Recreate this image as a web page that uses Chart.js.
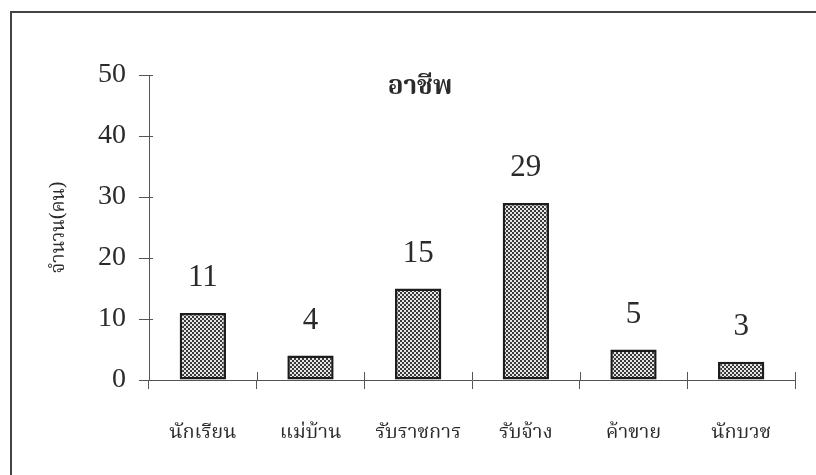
<!DOCTYPE html>
<html>
<head>
<meta charset="utf-8">
<script src="https://cdn.jsdelivr.net/npm/chart.js@4/dist/chart.umd.min.js"></script>
<style>
  html, body { margin: 0; padding: 0; background: #ffffff; }
  #wrap { width: 816px; height: 475px; }
</style>
</head>
<body>
<div id="wrap"><canvas id="c" width="816" height="475"></canvas></div>
<script>
// Occupation survey: number of people per occupation
const categories = ['นักเรียน', 'แม่บ้าน', 'รับราชการ', 'รับจ้าง', 'ค้าขาย', 'นักบวช'];
const counts = [11, 4, 15, 29, 5, 3];
const yTicks = [0, 10, 20, 30, 40, 50];
const chartTitle = 'อาชีพ';
const yAxisTitle = 'จำนวน(คน)';

const THAI = "'Noto Serif Thai', 'Noto Sans Thai', 'TH Sarabun New', 'Norasi', 'Loma', 'Garuda', serif";
const SERIF = "'Liberation Serif', 'DejaVu Serif', serif";
const INK = '#2b2b2b';
const AXIS = '#555555';

// Fine stipple fill used for the bars
function stipple() {
  const t = document.createElement('canvas');
  t.width = 4; t.height = 4;
  const g = t.getContext('2d');
  g.fillStyle = '#e6e6e6';
  g.fillRect(0, 0, 4, 4);
  g.fillStyle = '#3a3a3a';
  g.fillRect(0, 0, 2, 2);
  g.fillRect(2, 2, 2, 2);
  return g.createPattern(t, 'repeat');
}

// Frame, white page, title, axis title, inner tick stubs and value labels
const decor = {
  id: 'decor',
  beforeDraw(chart) {
    const c = chart.ctx;
    c.save();
    c.fillStyle = '#ffffff';
    c.fillRect(0, 0, chart.width, chart.height);
    c.strokeStyle = '#444444';
    c.lineWidth = 2;
    c.beginPath();
    c.moveTo(11, chart.height);
    c.lineTo(11, 12);
    c.lineTo(chart.width, 12);
    c.stroke();
    c.restore();
  },
  afterDraw(chart) {
    const c = chart.ctx;
    const a = chart.chartArea;
    const ys = chart.scales.y;
    c.save();
    // inward halves of the tick marks
    c.strokeStyle = AXIS;
    c.lineWidth = 1;
    c.beginPath();
    ys.ticks.forEach((t) => {
      const y = Math.round(ys.getPixelForValue(t.value)) + 0.5;
      c.moveTo(a.left, y); c.lineTo(a.left + 4, y);
    });
    const n = categories.length;
    for (let k = 1; k <= n; k++) {
      const x = Math.round(a.left + (a.right - a.left) * k / n) + 0.5;
      c.moveTo(x, a.bottom); c.lineTo(x, a.bottom - 8);
    }
    c.stroke();

    // title inside plot
    c.fillStyle = INK;
    c.textAlign = 'center';
    c.textBaseline = 'middle';
    c.font = 'bold 26px ' + THAI;
    c.fillText(chartTitle, 420, 90);

    // rotated axis title
    c.save();
    c.translate(61, (a.top + a.bottom) / 2);
    c.rotate(-Math.PI / 2);
    c.font = '19px ' + THAI;
    c.fillText(yAxisTitle, 0, 0);
    c.restore();

    // value labels above bars
    c.font = '31px ' + SERIF;
    const meta = chart.getDatasetMeta(0);
    meta.data.forEach((bar, i) => {
      c.fillText(String(counts[i]), bar.x, bar.y - 35);
    });
    c.restore();
  }
};

new Chart(document.getElementById('c'), {
  type: 'bar',
  data: {
    labels: categories,
    datasets: [{
      data: counts,
      backgroundColor: stipple(),
      borderColor: '#1c1c1c',
      borderWidth: 2.5,
      borderSkipped: false,
      barPercentage: 0.43,
      categoryPercentage: 1.0
    }]
  },
  options: {
    responsive: false,
    animation: false,
    devicePixelRatio: 1,
    layout: { padding: { top: 75, right: 21, left: 0, bottom: 0 } },
    plugins: {
      legend: { display: false },
      tooltip: { enabled: false },
      title: { display: false }
    },
    scales: {
      x: {
        type: 'category',
        grid: { offset: true, drawOnChartArea: false, tickLength: 9, color: AXIS, lineWidth: 1 },
        border: { color: AXIS, width: 1 },
        ticks: { color: INK, font: { family: THAI, size: 20 }, padding: 34, maxRotation: 0, autoSkip: false },
        afterFit(s) { s.height = 95; }
      },
      y: {
        min: 0,
        max: 50,
        afterBuildTicks(s) { s.ticks = yTicks.map((v) => ({ value: v })); },
        grid: { drawOnChartArea: false, tickLength: 10, color: AXIS, lineWidth: 1 },
        border: { color: AXIS, width: 1 },
        ticks: { color: INK, font: { family: SERIF, size: 28 }, padding: 13 },
        afterFit(s) { s.width = 149; }
      }
    }
  },
  plugins: [decor]
});
</script>
</body>
</html>
